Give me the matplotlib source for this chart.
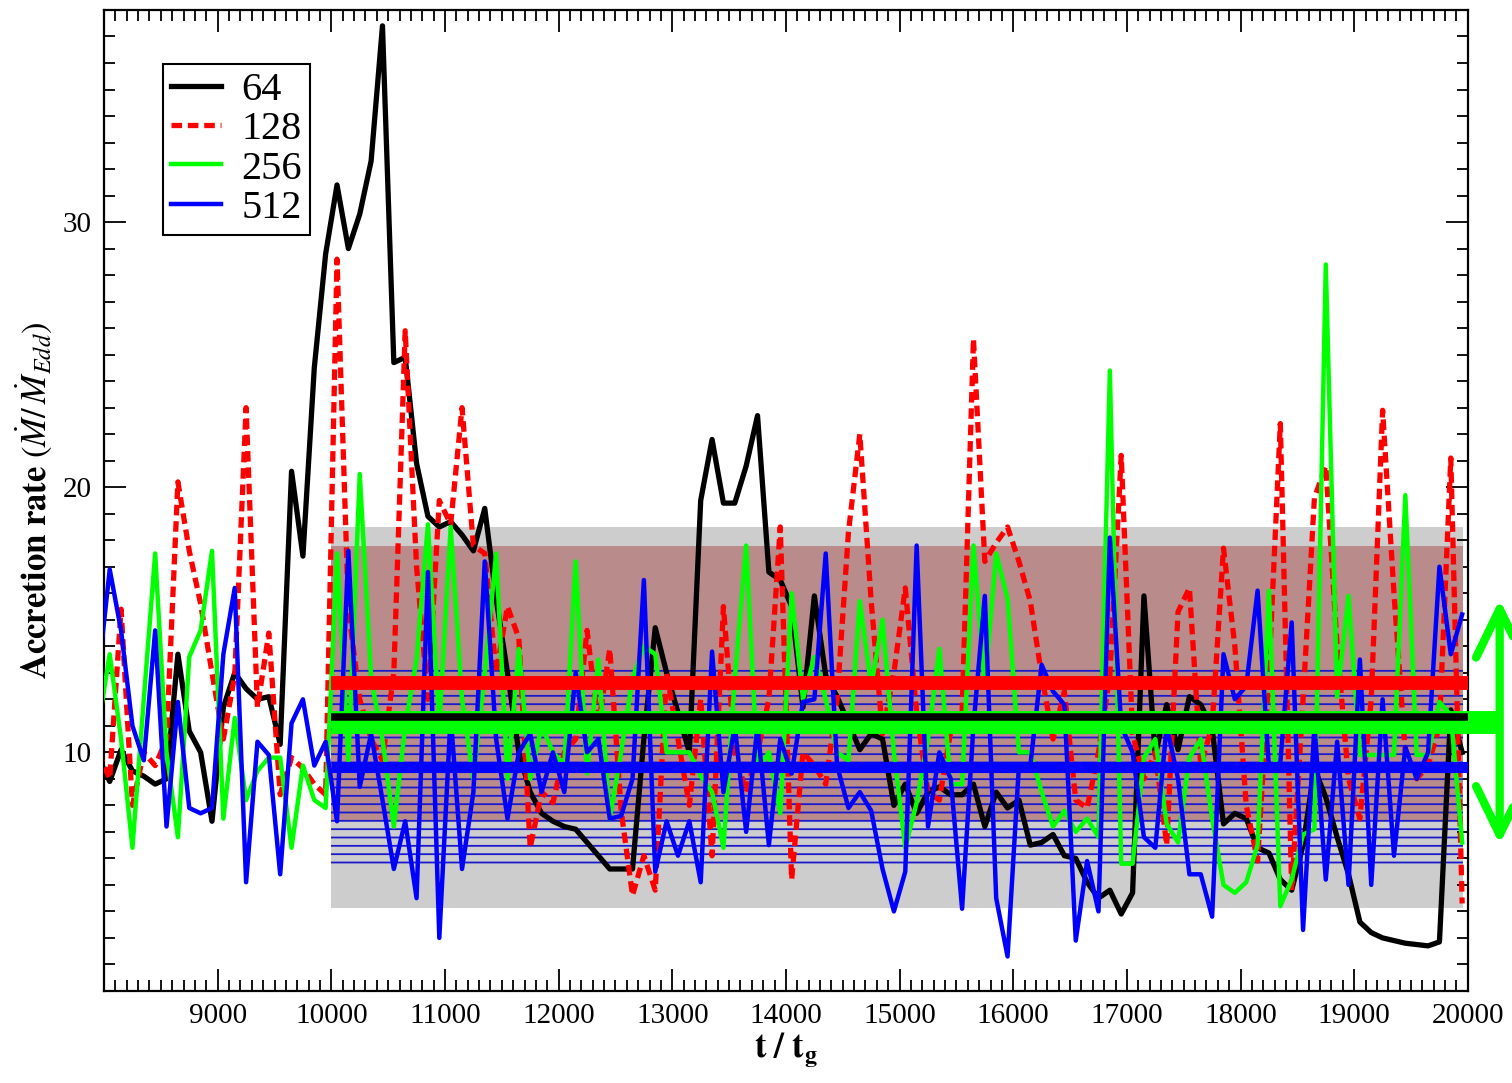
import numpy as np
import matplotlib
matplotlib.use("Agg")
import matplotlib.pyplot as plt
from matplotlib.ticker import MultipleLocator
from matplotlib.patches import ArrowStyle

plt.rcParams['font.family'] = ['Liberation Serif', 'DejaVu Serif']
plt.rcParams['mathtext.fontset'] = 'stix'

# sampling times (t / t_g)
t = np.arange(7950, 20000, 100)

# accretion rate for each resolution
rate_64 = [9.8, 8.9, 10.1, 9.3, 9.1, 8.8, 9.0, 13.7, 10.8, 10.0,
           7.4, 11.7, 13.0, 12.4, 12.0, 12.1, 10.3, 20.6, 17.4, 24.5,
           28.8, 31.4, 29.0, 30.3, 32.3, 37.4, 24.7, 24.9, 20.9, 18.9,
           18.5, 18.7, 18.2, 17.6, 19.2, 15.8, 13.0, 10.0, 8.5, 7.7,
           7.4, 7.2, 7.1, 6.6, 6.1, 5.6, 5.6, 5.6, 10.5, 14.7,
           13.0, 11.5, 10.0, 19.5, 21.8, 19.4, 19.4, 20.8, 22.7, 16.8,
           16.5, 15.5, 11.7, 15.9, 12.9, 12.1, 11.1, 10.1, 10.7, 10.5,
           8.0, 8.8, 7.7, 8.5, 8.7, 8.4, 8.4, 8.8, 7.2, 8.5,
           7.9, 8.2, 6.5, 6.6, 6.9, 6.1, 6.0, 5.1, 4.5, 4.8,
           3.9, 4.7, 15.9, 9.9, 11.8, 10.1, 12.1, 11.8, 10.9, 7.3,
           7.7, 7.5, 6.4, 6.2, 5.2, 4.8, 6.5, 9.4, 8.3, 6.8,
           5.4, 3.6, 3.2, 3.0, 2.9, 2.8, 2.75, 2.7, 2.85, 11.6,
           10.0]
rate_128 = [10.0, 9.0, 15.4, 8.0, 10.0, 9.5, 10.5, 20.2, 17.6, 15.6,
            13.0, 10.5, 12.9, 23.0, 11.7, 14.5, 8.4, 9.8, 9.4, 8.8,
            8.4, 28.6, 15.4, 12.0, 10.5, 9.7, 13.0, 25.9, 17.0, 12.0,
            19.5, 18.6, 23.0, 17.8, 17.5, 13.0, 15.5, 14.3, 6.4, 8.5,
            8.1, 10.0, 10.5, 14.6, 11.0, 13.9, 7.8, 4.6, 6.1, 4.8,
            13.0, 10.5, 8.0, 12.0, 6.1, 15.5, 10.0, 8.5, 10.0, 12.0,
            18.5, 5.2, 10.0, 9.5, 8.8, 12.0, 18.3, 22.0, 15.7, 10.7,
            13.0, 16.2, 11.5, 8.5, 8.2, 10.8, 11.5, 25.6, 17.2, 17.9,
            18.5, 17.2, 15.7, 12.9, 10.5, 12.3, 8.2, 7.9, 10.0, 12.9,
            21.2, 10.7, 9.0, 10.0, 6.5, 15.3, 16.2, 9.5, 11.0, 17.7,
            14.0, 8.0, 5.9, 13.0, 22.4, 4.8, 12.0, 19.6, 20.8, 14.0,
            9.0, 7.5, 12.0, 22.9, 16.0, 10.0, 9.0, 9.5, 11.0, 21.1,
            4.3]
rate_256 = [11.0, 13.7, 10.5, 6.4, 12.0, 17.5, 10.0, 6.8, 13.6, 14.6,
            17.6, 7.5, 11.3, 8.2, 9.3, 9.8, 9.8, 6.4, 9.5, 8.2,
            7.9, 17.5, 9.7, 20.5, 12.8, 10.5, 7.2, 11.0, 13.5, 18.6,
            11.0, 18.5, 12.0, 9.0, 13.0, 17.5, 9.0, 13.9, 9.0, 11.0,
            10.0, 9.5, 17.2, 9.2, 13.5, 7.5, 10.0, 12.8, 14.0, 13.7,
            10.0, 10.0, 10.0, 9.1, 8.5, 6.4, 12.8, 17.8, 9.3, 10.0,
            7.7, 16.0, 12.0, 13.6, 12.0, 10.0, 9.7, 15.7, 12.5, 15.0,
            10.0, 6.4, 8.1, 10.5, 13.9, 8.8, 8.8, 17.8, 12.5, 17.5,
            15.8, 10.0, 10.0, 8.5, 7.2, 7.8, 7.0, 7.5, 6.8, 24.4,
            5.8, 5.8, 9.8, 10.5, 7.3, 6.6, 9.8, 10.5, 7.5, 5.0,
            4.7, 5.1, 6.5, 16.1, 4.2, 5.2, 6.9, 7.1, 28.4, 12.1,
            15.9, 9.9, 9.9, 9.9, 9.9, 19.7, 9.9, 9.9, 11.9, 11.4,
            6.6]
rate_512 = [12.9, 16.9, 14.6, 11.0, 9.7, 14.6, 7.2, 11.9, 7.9, 7.7,
            7.9, 13.7, 16.2, 5.1, 10.4, 9.9, 5.4, 11.1, 12.0, 9.5,
            10.4, 7.4, 17.6, 8.7, 10.7, 8.2, 5.6, 7.4, 4.5, 16.8,
            3.0, 11.4, 5.6, 8.5, 17.2, 10.5, 7.5, 10.0, 10.7, 8.5,
            10.0, 8.5, 13.0, 10.0, 10.5, 7.5, 7.6, 9.0, 16.5, 5.5,
            7.4, 6.1, 7.4, 5.1, 13.8, 8.5, 11.0, 7.0, 11.0, 6.5,
            10.5, 9.2, 11.9, 12.0, 17.5, 9.5, 7.9, 8.5, 7.8, 5.6,
            4.0, 5.5, 17.8, 7.2, 10.0, 9.0, 4.1, 11.0, 15.9, 4.5,
            2.3, 9.5, 9.5, 13.3, 12.3, 11.8, 2.9, 5.9, 4.0, 18.1,
            11.0, 10.0, 6.8, 6.4, 11.0, 9.0, 5.4, 5.4, 3.8, 13.7,
            12.0, 12.5, 16.1, 9.4, 9.6, 14.9, 3.3, 11.0, 5.2, 10.4,
            5.0, 13.5, 5.0, 12.0, 6.1, 10.2, 9.0, 10.0, 17.0, 13.7,
            15.2]

# time-averaged rates and spreads over 10000-20000 t_g
mean_64, std_64 = 11.32, 7.18
mean_128, std_128 = 12.6, 5.2
mean_256, std_256 = 11.15, 4.62
mean_512, std_512 = 9.45, 3.75
avg_start, avg_end = 10000, 20000
band_end = 19960
arrow_t = 20280

fig = plt.figure(figsize=(15.12, 10.83), dpi=100)
ax = fig.add_axes([0.0688, 0.085, 0.902, 0.9058])

# spread bands
ax.fill_between([avg_start, band_end], mean_64 - std_64, mean_64 + std_64,
                color='#cdcdcd', lw=0, zorder=1)
ax.fill_between([avg_start, band_end], mean_128 - std_128, mean_128 + std_128,
                color='#b98b8b', lw=0, zorder=2)
plt.rcParams['hatch.linewidth'] = 1.3
ax.fill_between([avg_start, band_end], mean_512 - std_512, mean_512 + std_512,
                facecolor='none', edgecolor='#1a1acc', hatch='--', lw=0, zorder=3)

# time series
ax.plot(t, rate_64, color='black', lw=3.8, label='64', zorder=5)
ax.plot(t, rate_128, color='red', lw=3.8, ls=(0, (2.0, 1.1)), label='128', zorder=5)
ax.plot(t, rate_256, color='#00ff00', lw=3.2, label='256', zorder=5)
ax.plot(t, rate_512, color='blue', lw=3.2, label='512', zorder=5)

# mean lines
ax.plot([avg_start, arrow_t + 3], [mean_256, mean_256], color='#00ff00', lw=16.5,
        solid_capstyle='butt', clip_on=False, zorder=6)
ax.plot([avg_start, avg_end], [mean_64, mean_64], color='black', lw=5.4,
        solid_capstyle='butt', zorder=7)
ax.plot([avg_start, avg_end], [mean_128, mean_128], color='red', lw=10,
        solid_capstyle='butt', zorder=7)
ax.plot([avg_start, avg_end], [mean_512, mean_512], color='blue', lw=8,
        solid_capstyle='butt', zorder=7)

# spread of the 256 run, drawn outside the frame
ax.annotate('', xy=(arrow_t, mean_256 + std_256), xytext=(arrow_t, mean_256 - std_256),
            arrowprops=dict(arrowstyle=ArrowStyle('<->', head_length=1.75, head_width=0.85),
                            mutation_scale=20, color='#00ff00', lw=6,
                            shrinkA=0, shrinkB=0),
            annotation_clip=False, zorder=8)

ax.set_xlim(8000, 20000)
ax.set_ylim(1, 38)
ax.set_xticks(np.arange(9000, 20001, 1000))
ax.xaxis.set_minor_locator(MultipleLocator(100))
ax.yaxis.set_major_locator(MultipleLocator(10))
ax.yaxis.set_minor_locator(MultipleLocator(1))
ax.tick_params(which='both', direction='in', top=True, right=True, width=1.3,
               labelsize=21, pad=9)
ax.tick_params(which='major', length=16)
ax.tick_params(which='minor', length=8)
for s in ax.spines.values():
    s.set_linewidth(1.6)

ax.set_xlabel(r'$\mathbf{t\ /\ t_g}$', fontsize=25, labelpad=1)
ax.set_ylabel(r'$\mathbf{Accretion\ rate}\ (\dot{M}/\,\dot{M}_{Edd})$', fontsize=25, labelpad=6)

leg = ax.legend(loc='upper left', bbox_to_anchor=(0.043, 0.945), borderaxespad=0,
                fontsize=29, handlelength=1.25, handletextpad=0.5, labelspacing=0.05,
                borderpad=0.2, fancybox=False, framealpha=1, edgecolor='black')
leg.get_frame().set_linewidth(1.5)

fig.savefig('out.png', dpi=100)
